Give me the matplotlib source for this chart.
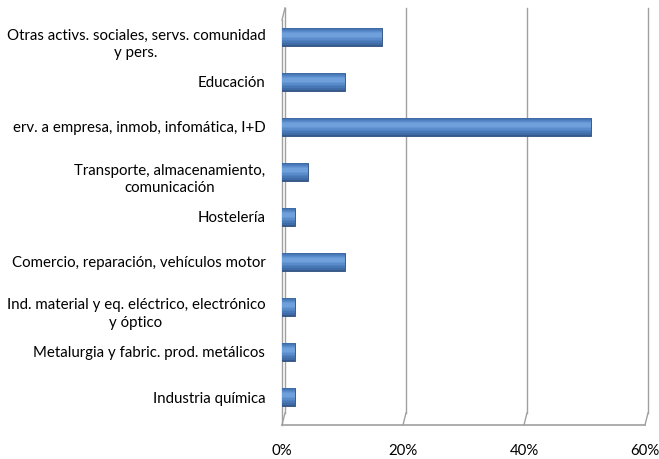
import matplotlib
matplotlib.use("Agg")
import matplotlib.pyplot as plt
from matplotlib.transforms import blended_transform_factory, ScaledTranslation
from matplotlib.lines import Line2D

categories = [
    "Industria química",
    "Metalurgia y fabric. prod. metálicos",
    "Ind. material y eq. eléctrico, electrónico\ny óptico",
    "Comercio, reparación, vehículos motor",
    "Hostelería",
    "Transporte, almacenamiento,\ncomunicación",
    "erv. a empresa, inmob, infomática, I+D",
    "Educación",
    "Otras activs. sociales, servs. comunidad\ny pers.",
]
values = [2.1, 2.1, 2.1, 10.4, 2.1, 4.3, 51.0, 10.4, 16.5]
xticks = [0, 20, 40, 60]
xticklabels = ["0%", "20%", "40%", "60%"]

plt.rcParams['font.family'] = ['Lato', 'DejaVu Sans']

W, H = 659, 459
fig = plt.figure(figsize=(W / 100, H / 100), dpi=100)
ax_left, ax_right = 282, 645
ax_top, ax_bottom = 8, 425
ax = fig.add_axes([ax_left / W, (H - ax_bottom) / H,
                   (ax_right - ax_left) / W, (ax_bottom - ax_top) / H])

ypos = list(range(len(categories)))
ax.set_xlim(0, 60)
ax.set_ylim(-(ax_bottom - 397) / 45, 8 + (37 - ax_top) / 45)

for s in ax.spines.values():
    s.set_visible(False)

gcol = "#a0a0a0"
blend = blended_transform_factory(ax.transData, ax.transAxes)
back = blend + ScaledTranslation(3 / 100, 0, fig.dpi_scale_trans)
back_floor = 12 / (ax_bottom - ax_top)
dx = 3 * 60 / (ax_right - ax_left)
kw = dict(color=gcol, lw=1.0, zorder=1, clip_on=False)
for xv in xticks[1:]:
    ax.add_line(Line2D([xv, xv], [back_floor, 1], transform=back, **kw))
    ax.add_line(Line2D([xv, xv + dx], [0, back_floor], transform=blend, **kw))
# floor front line
ax.add_line(Line2D([0, 60], [0.001, 0.001], transform=blend, color=gcol, lw=1.2,
                   zorder=2, clip_on=False))
# left wall
ax.add_line(Line2D([0, 0], [back_floor, 1], transform=back, **kw))
ax.add_line(Line2D([0, 0], [0, 1 - back_floor], transform=blend, **kw))
ax.add_line(Line2D([0, dx], [1 - back_floor, 1], transform=blend, **kw))
ax.add_line(Line2D([0, dx], [0, back_floor], transform=blend, **kw))

# bars with gradient-like layering
h = 0.41
layers = [
    (1.00, 0.00, "#36598C"),
    (0.88, 0.03, "#3F6BA6"),
    (0.74, 0.05, "#4777B5"),
    (0.60, 0.07, "#4F81C0"),
    (0.46, 0.08, "#5A8CCB"),
    (0.32, 0.09, "#6597D4"),
    (0.18, 0.10, "#6FA0DB"),
]
for i, (frac, off, col) in enumerate(layers):
    ax.barh([y + h * off for y in ypos], values, height=h * frac, color=col,
            edgecolor="#2E4F80" if i == 0 else "none", linewidth=0.6 if i == 0 else 0,
            zorder=3 + i)

ax.set_yticks(ypos)
ax.set_yticklabels(categories, fontsize=10.8, color="#000000", multialignment="center",
                   linespacing=1.35)
ax.tick_params(axis="y", length=0, pad=12)
for lab in ax.get_yticklabels():
    if "\n" in lab.get_text():
        lab.set_transform(lab.get_transform() + ScaledTranslation(0, -4 / 100, fig.dpi_scale_trans))
ax.set_xticks(xticks)
ax.set_xticklabels(xticklabels, fontsize=10.8)
ax.tick_params(axis="x", length=0, pad=14)

fig.savefig("out.png", dpi=100)
